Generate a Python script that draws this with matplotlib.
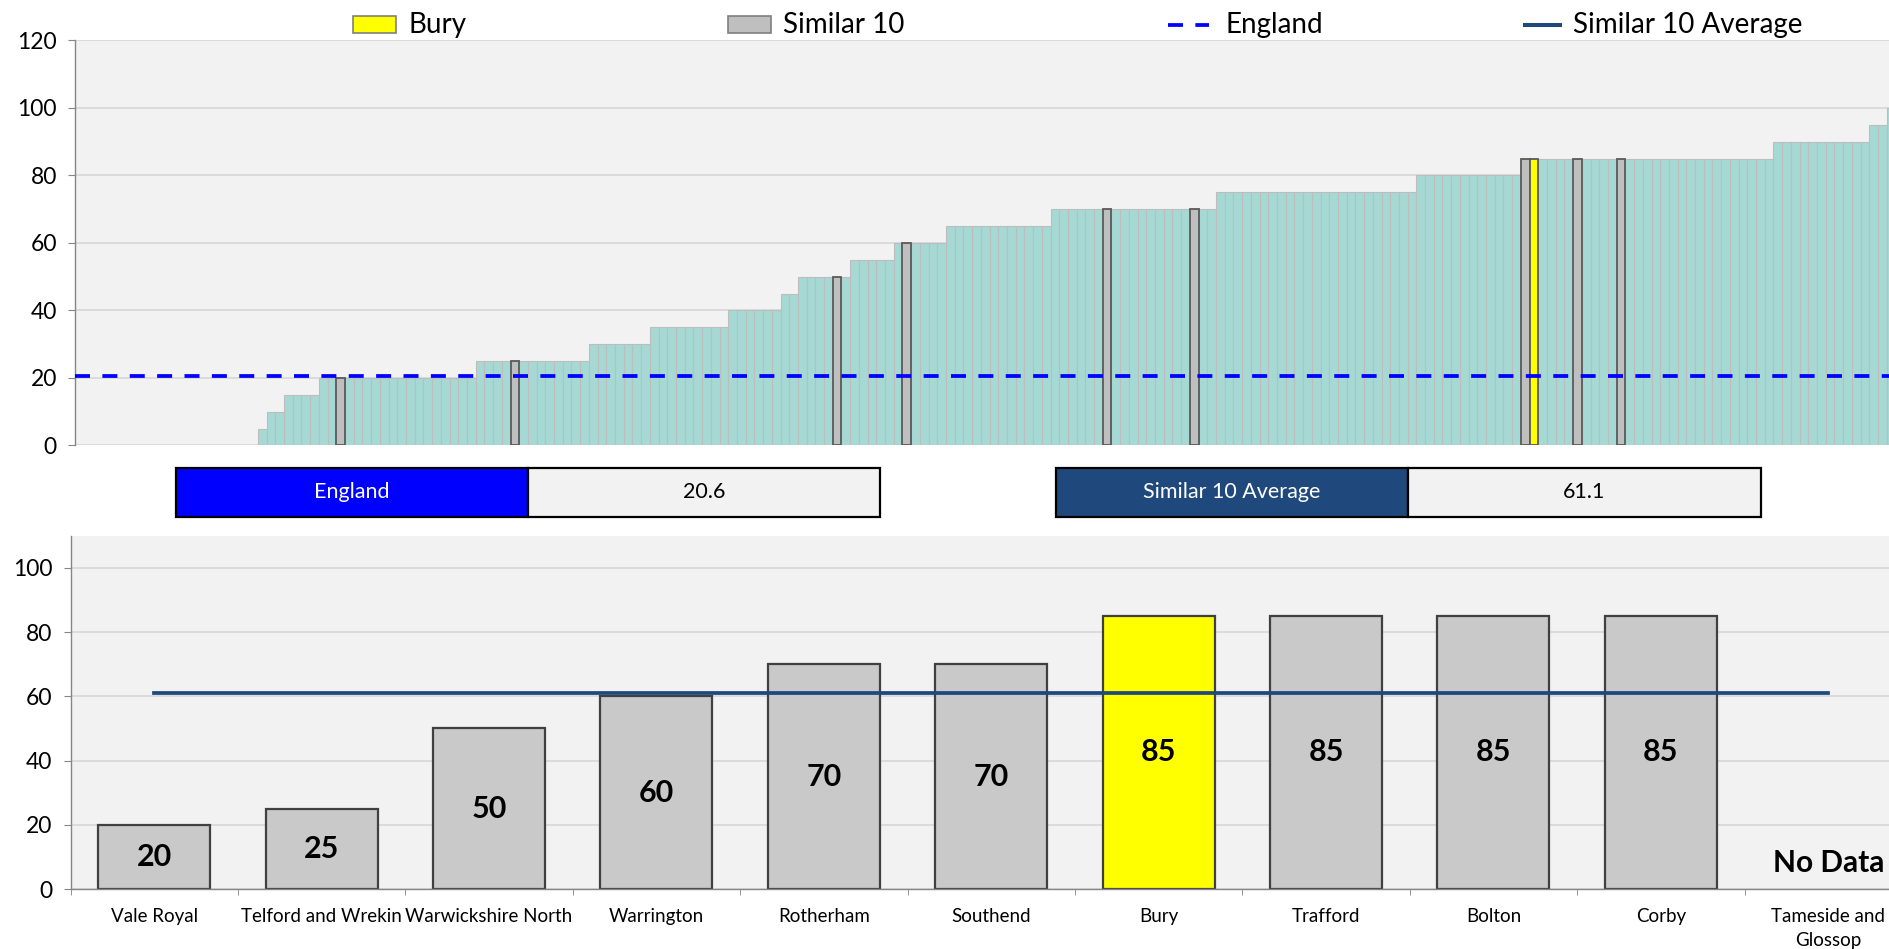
import numpy as np
import matplotlib
matplotlib.use('Agg')
import matplotlib.pyplot as plt
from matplotlib.patches import Rectangle
from matplotlib.lines import Line2D

plt.rcParams['font.family'] = ['Lato', 'DejaVu Sans']

W, H, DPI = 1889, 949, 100

# ---------------- data ----------------
# top chart: all areas ranked (run-length encoding of the visible steps)
n_missing = 21
rank_levels = [5, 10, 15, 20, 25, 30, 35, 40, 45, 50, 55, 60, 65, 70, 75, 80, 85, 90, 95, 100]
rank_counts = [1, 2, 4, 18, 13, 7, 9, 6, 2, 6, 5, 6, 12, 19, 23, 12, 29, 11, 2, 2]
similar_rank_pos = [9, 29, 66, 74, 97, 107, 145, 151, 156]
bury_rank_pos = 146

england_value = 20.6
similar_avg_value = 61.1

areas = ["Vale Royal", "Telford and Wrekin", "Warwickshire North", "Warrington",
         "Rotherham", "Southend", "Bury", "Trafford", "Bolton", "Corby",
         "Tameside and\nGlossop"]
area_values = [20, 25, 50, 60, 70, 70, 85, 85, 85, 85, np.nan]
focus_area = "Bury"

# ---------------- styling ----------------
TEAL = '#A6D9D4'
GREY_BAR = '#BFBFBF'
GREY_BAR2 = '#C9C9C9'
YELLOW = '#FFFF00'
ENG_BLUE = '#0000FF'
NAVY = '#1F497D'
PLOT_BG = '#F2F2F2'
GRID = '#D9D9D9'
AXIS = '#868686'

fig = plt.figure(figsize=(W / DPI, H / DPI), dpi=DPI)
fig.patch.set_facecolor('white')

def rect(l, t, r, b):
    return [l / W, 1 - b / H, (r - l) / W, (b - t) / H]

# ---------------- top chart ----------------
slot = 8.71
n_slots = 211
ax1 = fig.add_axes(rect(75, 40.5, 75 + n_slots * slot, 445.5))
ax1.set_facecolor(PLOT_BG)
vals = np.repeat(rank_levels, rank_counts)
xs = n_missing + np.arange(len(vals))
ax1.bar(xs, vals, width=1.0, color=TEAL, edgecolor='#BDBDBD', linewidth=0.8, zorder=2)
sx = [n_missing + p for p in similar_rank_pos]
ax1.bar(sx, vals[similar_rank_pos], width=1.0, color=GREY_BAR, edgecolor='#5A5A5A',
        linewidth=1.3, zorder=3)
ax1.bar([n_missing + bury_rank_pos], [vals[bury_rank_pos]], width=1.0, color=YELLOW,
        edgecolor='#5A5A5A', linewidth=1.3, zorder=3)
ax1.axhline(england_value, color=ENG_BLUE, lw=2.7, dashes=(4, 3.3), zorder=4)
ax1.set_xlim(-0.5, n_slots - 0.5)
ax1.set_ylim(0, 120)
ax1.set_yticks(np.arange(0, 121, 20))
ax1.set_xticks([])
ax1.yaxis.grid(True, color=GRID, lw=1.3)
ax1.set_axisbelow(True)
for s in ['top', 'right', 'bottom']:
    ax1.spines[s].set_visible(False)
ax1.spines['left'].set_color(AXIS)
ax1.spines['left'].set_linewidth(1.0)
ax1.tick_params(axis='y', direction='out', length=5, color=AXIS, labelsize=16.5, pad=8)

# ---------------- bottom chart ----------------
cslot = 167.4
ax2 = fig.add_axes(rect(70.5, 535.7, 70.5 + len(areas) * cslot, 889))
ax2.set_facecolor(PLOT_BG)
xpos = np.arange(len(areas))
vals2 = np.array(area_values, dtype=float)
have = ~np.isnan(vals2)
colors = [YELLOW if a == focus_area else GREY_BAR2 for a in areas]
ax2.bar(xpos[have], vals2[have], width=0.67, color=[c for c, h in zip(colors, have) if h],
        edgecolor='#404040', linewidth=1.6, zorder=2)
ax2.plot([xpos[0], xpos[-1]], [similar_avg_value] * 2, color=NAVY, lw=2.7, zorder=4)
for x, v in zip(xpos, vals2):
    if np.isnan(v):
        ax2.text(x, 8.2, "No Data", ha='center', va='center', fontsize=21.5,
                 fontweight='bold', zorder=5)
    else:
        ax2.text(x, v / 2, f"{v:.0f}", ha='center', va='center', fontsize=22,
                 fontweight='bold', zorder=5)
ax2.set_xlim(-0.5, len(areas) - 0.5)
ax2.set_ylim(0, 110)
ax2.set_yticks(np.arange(0, 101, 20))
ax2.set_xticks(xpos)
ax2.set_xticklabels(areas, linespacing=1.45)
ax2.set_xticks(np.arange(-0.5, len(areas), 1.0), minor=True)
ax2.yaxis.grid(True, color=GRID, lw=1.3)
ax2.set_axisbelow(True)
for s in ['top', 'right']:
    ax2.spines[s].set_visible(False)
for s in ['left', 'bottom']:
    ax2.spines[s].set_color(AXIS)
    ax2.spines[s].set_linewidth(1.0)
ax2.tick_params(axis='y', direction='out', length=5, color=AXIS, labelsize=16.5, pad=8)
ax2.tick_params(axis='x', which='major', length=0, labelsize=13.5, pad=14)
ax2.tick_params(axis='x', which='minor', direction='out', length=4.5, color=AXIS)

# ---------------- overlay: legend and summary boxes ----------------
ov = fig.add_axes([0, 0, 1, 1])
ov.set_xlim(0, W)
ov.set_ylim(H, 0)
ov.axis('off')
ov.patch.set_alpha(0)

ly = 24.5
ov.add_patch(Rectangle((352.7, 16), 42.8, 17, fc=YELLOW, ec='#7F7F7F', lw=1.2))
ov.text(408.5, ly, "Bury", ha='left', va='center', fontsize=20)
ov.add_patch(Rectangle((727.7, 16), 42.8, 17, fc=GREY_BAR, ec='#7F7F7F', lw=1.2))
ov.text(783, ly, "Similar 10", ha='left', va='center', fontsize=20)
ov.add_line(Line2D([1168, 1209], [ly, ly], color=ENG_BLUE, lw=2.7, dashes=(4, 3.3)))
ov.text(1225, ly, "England", ha='left', va='center', fontsize=20)
ov.add_line(Line2D([1525, 1560], [ly, ly], color=NAVY, lw=2.9))
ov.text(1573, ly, "Similar 10 Average", ha='left', va='center', fontsize=20)

def summary(l, m, r, label, fc, value):
    t, b = 467.7, 517
    ov.add_patch(Rectangle((l, t), m - l, b - t, fc=fc, ec='black', lw=1.6))
    ov.add_patch(Rectangle((m, t), r - m, b - t, fc=PLOT_BG, ec='black', lw=1.6))
    ov.text((l + m) / 2, (t + b) / 2, label, ha='center', va='center', fontsize=15.5,
            color='white')
    ov.text((m + r) / 2, (t + b) / 2, f"{value:.1f}", ha='center', va='center',
            fontsize=15.5, color='black')

summary(175.7, 528.3, 879.5, "England", ENG_BLUE, england_value)
summary(1055.6, 1408, 1761, "Similar 10 Average", NAVY, similar_avg_value)

fig.savefig("out.png", dpi=DPI)
